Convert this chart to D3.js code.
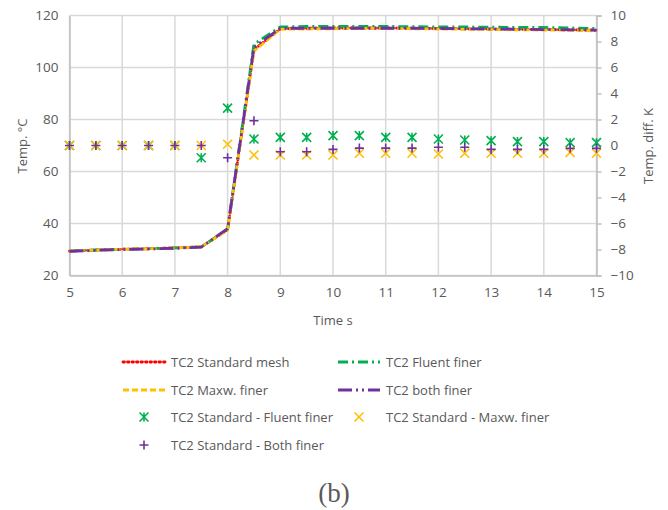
<!DOCTYPE html>
<html>
<head>
<meta charset="utf-8">
<script src="https://cdn.jsdelivr.net/npm/d3@7/dist/d3.min.js"></script>
<style>
  html, body { margin: 0; padding: 0; background: #fff; }
  svg { display: block; }
  text { font-family: "Open Sans", "Noto Sans", sans-serif; fill: #595959; }
</style>
</head>
<body>
<svg id="chart" width="668" height="510"></svg>
<script>
// Time axis samples (s)
const times = [5, 5.5, 6, 6.5, 7, 7.5, 8, 8.5, 9, 9.5, 10, 10.5, 11, 11.5, 12, 12.5, 13, 13.5, 14, 14.5, 15];

// TC2 temperatures (°C)
const stdMesh     = [29.4, 29.8, 30.1, 30.3, 30.6, 31.0, 37.6, 106.8, 114.9, 115.1, 115.2, 115.2, 115.2, 115.1, 115.0, 114.9, 114.8, 114.7, 114.6, 114.5, 114.3];
const fluentFiner = [29.4, 29.8, 30.1, 30.3, 30.6, 31.0, 37.8, 109.0, 115.6, 115.8, 115.8, 115.8, 115.8, 115.7, 115.6, 115.6, 115.5, 115.4, 115.4, 115.2, 115.0];
const maxwFiner   = [29.4, 29.8, 30.1, 30.3, 30.6, 31.0, 37.5, 106.3, 114.7, 114.8, 114.9, 115.0, 115.0, 114.9, 114.8, 114.7, 114.6, 114.5, 114.4, 114.3, 114.1];
const bothFiner   = [29.3, 29.7, 30.0, 30.2, 30.5, 30.9, 38.0, 107.8, 115.1, 115.1, 115.1, 115.1, 115.1, 115.1, 115.0, 114.9, 114.8, 114.7, 114.6, 114.5, 114.4];

// Temperature differences (K)
const diffFluent = [0, 0, 0, 0, 0, -0.94, 2.87, 0.5, 0.63, 0.63, 0.76, 0.76, 0.63, 0.63, 0.5, 0.42, 0.37, 0.3, 0.3, 0.22, 0.22];
const diffMaxw   = [0, 0, 0, 0, 0, 0, 0.1, -0.73, -0.73, -0.73, -0.73, -0.6, -0.6, -0.6, -0.65, -0.6, -0.6, -0.6, -0.6, -0.53, -0.6];
const diffBoth   = [0, 0, 0, 0, 0, 0, -0.94, 1.9, -0.48, -0.48, -0.3, -0.2, -0.2, -0.2, -0.14, -0.14, -0.3, -0.3, -0.3, -0.22, -0.22];

// Axis ticks
const xTicks = [5, 6, 7, 8, 9, 10, 11, 12, 13, 14, 15];
const yLeftTicks = [20, 40, 60, 80, 100, 120];
const yRightTicks = [-10, -8, -6, -4, -2, 0, 2, 4, 6, 8, 10];

const svg = d3.select("#chart");
const plot = { left: 69.5, right: 596.5, top: 15.5, bottom: 275.5 };

const x = d3.scaleLinear().domain([5, 15]).range([plot.left, plot.right]);
const yL = d3.scaleLinear().domain([20, 120]).range([plot.bottom, plot.top]);
const yR = d3.scaleLinear().domain([-10, 10]).range([plot.bottom, plot.top]);

const gridColor = "#d9d9d9";
const fontSize = "13px";

// Gridlines
svg.append("g").selectAll("line").data(xTicks).join("line")
  .attr("x1", d => x(d)).attr("x2", d => x(d))
  .attr("y1", plot.top).attr("y2", plot.bottom)
  .attr("stroke", gridColor).attr("stroke-width", 1.5);
svg.append("g").selectAll("line").data(yLeftTicks).join("line")
  .attr("x1", plot.left).attr("x2", plot.right)
  .attr("y1", d => yL(d)).attr("y2", d => yL(d))
  .attr("stroke", gridColor).attr("stroke-width", 1.5);

// Axes
const fmt = d => d < 0 ? "\u2212" + Math.abs(d) : String(d);

const xAxis = svg.append("g").attr("transform", `translate(0,${plot.bottom})`)
  .call(d3.axisBottom(x).tickValues(xTicks).tickSize(0).tickPadding(12).tickFormat(d3.format("d")));
xAxis.select(".domain").attr("stroke", "#bfbfbf").attr("stroke-width", 1.5);

const yLeftAxis = svg.append("g").attr("transform", `translate(${plot.left},0)`)
  .call(d3.axisLeft(yL).tickValues(yLeftTicks).tickSize(0).tickPadding(11));
yLeftAxis.select(".domain").attr("stroke", "#bfbfbf").attr("stroke-width", 1.5);

const yRightAxis = svg.append("g").attr("transform", `translate(${plot.right},0)`)
  .call(d3.axisRight(yR).tickValues(yRightTicks).tickSize(5).tickPadding(9).tickFormat(fmt));
yRightAxis.select(".domain").attr("stroke", "#bfbfbf").attr("stroke-width", 1.5);
yRightAxis.selectAll(".tick line").attr("stroke", "#bfbfbf").attr("stroke-width", 1.5);

svg.selectAll(".tick text").style("font-size", "13.5px").attr("fill", "#595959")
  .style("font-family", "'Open Sans', sans-serif");

// Axis titles
svg.append("text").attr("x", 333).attr("y", 325).attr("text-anchor", "middle")
  .style("font-size", fontSize).text("Time s");
svg.append("text").attr("transform", "translate(27,146) rotate(-90)").attr("text-anchor", "middle")
  .style("font-size", fontSize).text("Temp. °C");
svg.append("text").attr("transform", "translate(652.5,146) rotate(-90)").attr("text-anchor", "middle")
  .style("font-size", fontSize).text("Temp. diff. K");

// Line series
const lineSeries = [
  { name: "TC2 Standard mesh", values: stdMesh, color: "#ff0000", dash: "1.5,3", cap: "round" },
  { name: "TC2 Fluent finer", values: fluentFiner, color: "#00b050", dash: "10,4,2,4", cap: "butt" },
  { name: "TC2 Maxw. finer", values: maxwFiner, color: "#ffc000", dash: "6,3", cap: "butt" },
  { name: "TC2 both finer", values: bothFiner, color: "#7030a0", dash: "14,4,2,4,2,4", cap: "butt" }
];

const line = d3.line().x(d => x(d[0])).y(d => yL(d[1]));
lineSeries.forEach(s => {
  svg.append("path")
    .datum(times.map((t, i) => [t, s.values[i]]))
    .attr("d", line)
    .attr("fill", "none")
    .attr("stroke", s.color)
    .attr("stroke-width", 2.8)
    .attr("stroke-dasharray", s.dash)
    .attr("stroke-linecap", s.cap)
    .attr("stroke-linejoin", "round");
});

// Marker shapes
const r = 4.5;
function markerPath(type) {
  const p = d3.path();
  if (type === "x" || type === "star") {
    p.moveTo(-r, -r); p.lineTo(r, r);
    p.moveTo(-r, r); p.lineTo(r, -r);
  }
  if (type === "star") {
    p.moveTo(0, -r); p.lineTo(0, r);
  }
  if (type === "plus") {
    p.moveTo(-r, 0); p.lineTo(r, 0);
    p.moveTo(0, -r); p.lineTo(0, r);
  }
  return p.toString();
}

const scatterSeries = [
  { name: "TC2 Standard - Fluent finer", values: diffFluent, color: "#00b050", type: "star" },
  { name: "TC2 Standard - Maxw. finer", values: diffMaxw, color: "#ffc000", type: "x" },
  { name: "TC2 Standard - Both finer", values: diffBoth, color: "#7030a0", type: "plus" }
];

scatterSeries.forEach(s => {
  svg.append("g").selectAll("path").data(times.map((t, i) => [t, s.values[i]])).join("path")
    .attr("transform", d => `translate(${x(d[0])},${yR(d[1])})`)
    .attr("d", markerPath(s.type))
    .attr("fill", "none")
    .attr("stroke", s.color)
    .attr("stroke-width", 1.6);
});

// Legend
const legend = svg.append("g");
const col = [{ sx: 123, tx: 171 }, { sx: 338, tx: 386 }];
const rowY = [362, 390, 417, 445];

lineSeries.forEach((s, i) => {
  const c = col[i % 2], yy = rowY[Math.floor(i / 2)];
  legend.append("line")
    .attr("x1", c.sx).attr("x2", c.sx + 42).attr("y1", yy).attr("y2", yy)
    .attr("stroke", s.color).attr("stroke-width", 2.8)
    .attr("stroke-dasharray", s.dash).attr("stroke-linecap", s.cap);
  legend.append("text").attr("x", c.tx).attr("y", yy).attr("dy", "0.35em")
    .style("font-size", fontSize).text(s.name);
});

scatterSeries.forEach((s, i) => {
  const c = col[i % 2], yy = rowY[2 + Math.floor(i / 2)];
  legend.append("path")
    .attr("transform", `translate(${c.sx + 21},${yy})`)
    .attr("d", markerPath(s.type))
    .attr("fill", "none").attr("stroke", s.color).attr("stroke-width", 1.6);
  legend.append("text").attr("x", c.tx).attr("y", yy).attr("dy", "0.35em")
    .style("font-size", fontSize).text(s.name);
});

// Panel label
svg.append("text").attr("x", 334).attr("y", 502).attr("text-anchor", "middle")
  .style("font-family", "'Liberation Serif', 'DejaVu Serif', serif")
  .style("font-size", "27px").attr("fill", "#000").text("(b)");
</script>
</body>
</html>
